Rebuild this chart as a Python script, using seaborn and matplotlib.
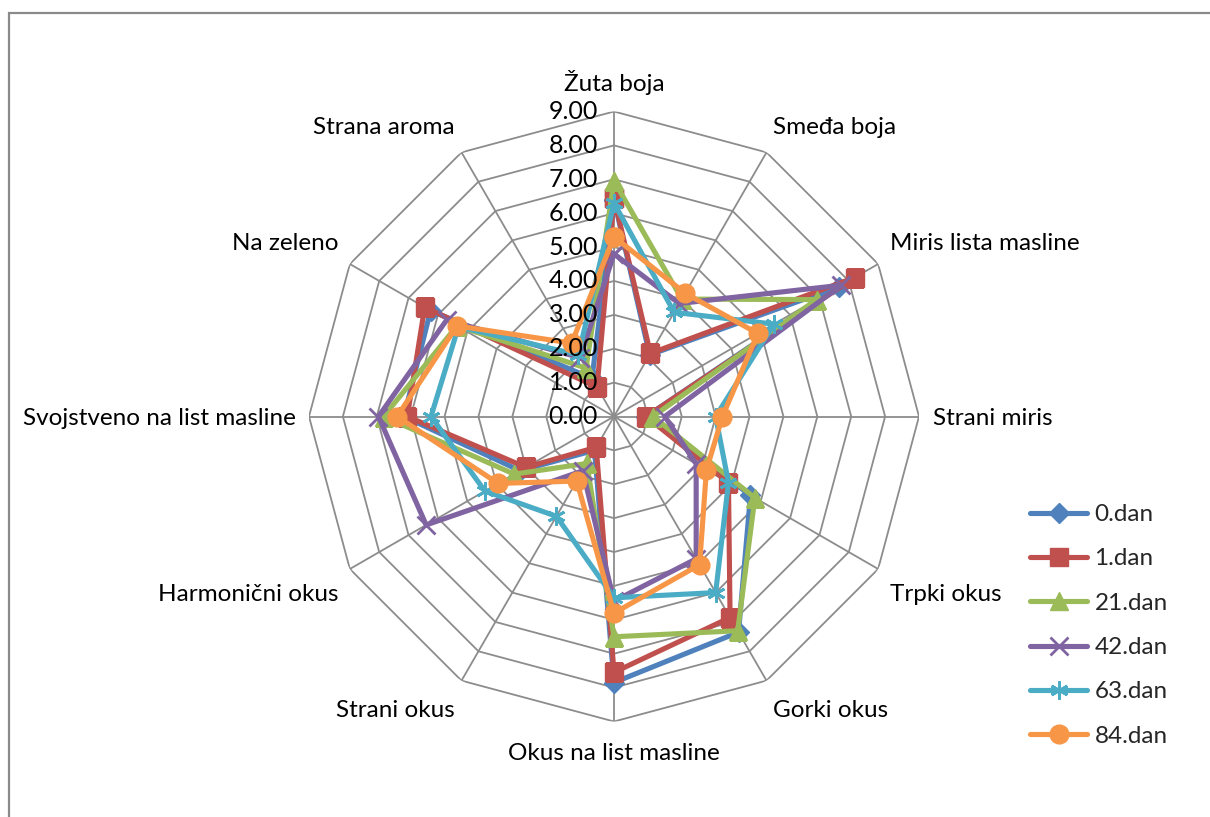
import numpy as np
import pandas as pd
import matplotlib
matplotlib.use("Agg")
import matplotlib.pyplot as plt
import matplotlib.transforms as mtransforms
from matplotlib.patches import Rectangle
from matplotlib.lines import Line2D
import seaborn as sns

# ---------------- data ----------------
categories = ["Žuta boja", "Smeđa boja", "Miris lista masline", "Strani miris",
              "Trpki okus", "Gorki okus", "Okus na list masline", "Strani okus",
              "Harmonični okus", "Svojstveno na list masline", "Na zeleno", "Strana aroma"]
series_names = ["0.dan", "1.dan", "21.dan", "42.dan", "63.dan", "84.dan"]
dan0 = [6.4, 2.1, 7.65, 0.95, 4.65, 7.35, 7.85, 1.15, 3.2, 6.2, 6.25, 1.3]
dan1 = [6.45, 2.15, 8.2, 0.95, 3.9, 6.85, 7.55, 1.05, 3.0, 6.1, 6.45, 1.0]
dan21 = [6.95, 4.0, 6.9, 1.15, 4.8, 7.3, 6.5, 1.6, 3.4, 6.8, 5.35, 1.65]
dan42 = [4.8, 3.85, 7.75, 1.5, 2.8, 4.85, 5.45, 1.85, 6.4, 6.95, 5.7, 2.0]
dan63 = [6.3, 3.55, 5.45, 3.0, 3.9, 6.0, 5.35, 3.4, 4.4, 5.4, 5.3, 2.1]
dan84 = [5.3, 4.2, 4.9, 3.2, 3.15, 5.05, 5.8, 2.2, 3.95, 6.4, 5.35, 2.5]
all_series = [dan0, dan1, dan21, dan42, dan63, dan84]
tick_values = [0, 1, 2, 3, 4, 5, 6, 7, 8, 9]
tick_labels = ["0.00", "1.00", "2.00", "3.00", "4.00", "5.00", "6.00", "7.00", "8.00", "9.00"]

# ---------------- style ----------------
colors = ["#4F81BD", "#C0504D", "#9BBB59", "#8064A2", "#4BACC6", "#F79646"]
markers = ["D", "s", "^", "x", (6, 2, 0), "o"]
msizes = [10.5, 13, 13, 13, 13, 13.5]
mews = [1, 1, 1, 2, 2, 1]
grid_color = "#8C8C8C"
FS = 17.5

sns.set_theme(style="white")
plt.rcParams["font.family"] = ["Lato", "DejaVu Sans"]

fig = plt.figure(figsize=(12.10, 8.17), dpi=100)
fig.patch.set_facecolor("white")

cx, cy, R = 614 / 1210, 1 - 416.5 / 817, 305
w, h = R / 1210, R / 817
ax = fig.add_axes([cx - w, cy - h, 2 * w, 2 * h], projection="polar")
ax.set_theta_zero_location("N")
ax.set_theta_direction(-1)
ax.set_ylim(0, 9)
ax.grid(False)
ax.set_xticks([])
ax.set_yticks([])
ax.spines["polar"].set_visible(False)
ax.patch.set_alpha(0)

n = len(categories)
angles = np.linspace(0, 2 * np.pi, n, endpoint=False)
ang_closed = np.concatenate([angles, angles[:1]])

# polygon grid
for k in tick_values[1:]:
    ax.plot(ang_closed, [k] * (n + 1), color=grid_color, lw=1.3, zorder=0)
for a in angles:
    ax.plot([a, a], [0, 9], color=grid_color, lw=1.3, zorder=0)

# series
handles = []
for i, (name, vals) in enumerate(zip(series_names, all_series)):
    df = pd.DataFrame({"theta": ang_closed, "r": list(vals) + [vals[0]]})
    sns.lineplot(data=df, x="theta", y="r", ax=ax, sort=False, estimator=None,
                 color=colors[i], lw=3.7, marker=markers[i], markersize=msizes[i],
                 markeredgewidth=mews[i], markeredgecolor=colors[i],
                 zorder=3 + i, legend=False)
    handles.append(Line2D([], [], color=colors[i], lw=3.7, marker=markers[i],
                          markersize=msizes[i], markeredgewidth=mews[i],
                          markeredgecolor=colors[i]))
ax.set_xlabel("")
ax.set_ylabel("")
ax.set_ylim(0, 9)

# value tick labels along top axis
off = mtransforms.offset_copy(ax.transData, fig=fig, x=-16, y=0, units="dots")
for v, lab in zip(tick_values, tick_labels):
    ax.text(0, v, lab, transform=off, ha="right", va="center", fontsize=18,
            color="black", zorder=10)

# category labels
align = [("center", "bottom"), ("left", "bottom"), ("left", "bottom"), ("left", "center"),
         ("left", "top"), ("left", "top"), ("center", "top"), ("right", "top"),
         ("right", "top"), ("right", "center"), ("right", "bottom"), ("right", "bottom")]
yshift = {"bottom": 3, "top": -8, "center": -2}
for a, lab, (ha, va) in zip(angles, categories, align):
    tr = mtransforms.offset_copy(ax.transData, fig=fig, x=0, y=yshift[va], units="dots")
    ax.text(a, 9.4, lab, ha=ha, va=va, fontsize=FS, color="black", transform=tr)

# legend
fig.legend(handles, series_names, loc="upper left", bbox_to_anchor=(1030 / 1210, 1 - 504 / 817),
           frameon=False, fontsize=FS, handlelength=2.35, labelspacing=0.96,
           handletextpad=0.3, borderaxespad=0, borderpad=0)

# outer frame
fig.patches.append(Rectangle((9 / 1210, -0.1), 1.2, 1 - 13 / 817 + 0.1,
                             transform=fig.transFigure, fill=False,
                             edgecolor="#8A8A8A", lw=1.6))

fig.savefig("out.png", dpi=100)
